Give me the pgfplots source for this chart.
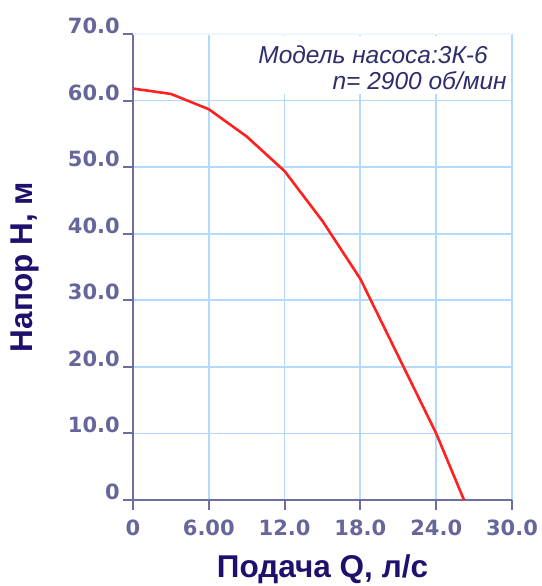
\documentclass[border=0pt]{standalone}
\usepackage{fontspec}
\usepackage{pgfplots}
\pgfplotsset{compat=1.18}
\setmainfont{Liberation Sans}
\newfontfamily\tickfont{DejaVu Sans}

\definecolor{axisgray}{HTML}{6E6E9E}
\definecolor{ticktext}{HTML}{66669A}
\definecolor{labelnavy}{HTML}{20106E}
\definecolor{notetext}{HTML}{2E2E6A}
\definecolor{gridblue}{HTML}{B4D9FF}
\definecolor{gridfaint}{HTML}{EEF6FF}
\definecolor{curvered}{HTML}{FF2020}

\begin{document}
\begin{tikzpicture}
\path[use as bounding box] (-133pt,-86pt) rectangle (408pt,500pt);
\begin{axis}[
  at={(0,0)}, anchor=south west,
  scale only axis,
  width=379pt, height=466pt,
  xmin=0, xmax=30, ymin=0, ymax=70,
  axis lines*=left,
  axis line style={color=axisgray, line width=2.4pt, -},
  xtick={0,6,12,18,24,30},
  xticklabels={0,6.00,12.0,18.0,24.0,30.0},
  ytick={0,10,20,30,40,50,60},
  yticklabels={0,10.0,20.0,30.0,40.0,50.0,60.0},
  extra y ticks={70},
  extra y tick labels={70.0},
  extra y tick style={major grid style={color=gridfaint, line width=1.6pt}},
  tick align=outside,
  major tick length=10pt,
  tick style={color=axisgray, line width=2pt},
  grid=major,
  major grid style={color=gridblue, line width=1.8pt},
  ticklabel style={font=\tickfont\bfseries\fontsize{21}{22}\selectfont, text=ticktext, inner sep=0pt},
  xticklabel style={anchor=north, yshift=-10pt},
  yticklabel style={anchor=base east, xshift=-3pt, yshift=0.5pt},
  xlabel={Подача Q, л/с},
  ylabel={Напор Н, м},
  label style={font=\bfseries\fontsize{31.5}{32}\selectfont, text=labelnavy},
  xlabel style={at={(rel axis cs:0.5,-0.167)}, anchor=base},
  ylabel style={at={(rel axis cs:-0.2639,0.5)}, anchor=base},
  clip=false,
]
\addplot[color=curvered, line width=2.6pt, line join=round] coordinates {
  (0,61.8) (3,61.0) (6,58.7) (9,54.6) (12,49.4) (15,41.9)
  (18,33.2) (21,21.6) (24,10.0) (26.2,0)
};
% white panel behind the pump model note
\fill[white] (axis cs:9.3,69.75) rectangle (axis cs:29.78,61.0);
\node[anchor=base east, inner sep=0pt, text=notetext,
      font=\itshape\fontsize{24.5}{25}\selectfont]
  at (axis cs:28.1,65.6) {Модель насоса:3К-6};
\node[anchor=base east, inner sep=0pt, text=notetext,
      font=\itshape\fontsize{24.5}{25}\selectfont]
  at (axis cs:29.6,61.6) {n= 2900 об/мин};
\end{axis}
\end{tikzpicture}
\end{document}
